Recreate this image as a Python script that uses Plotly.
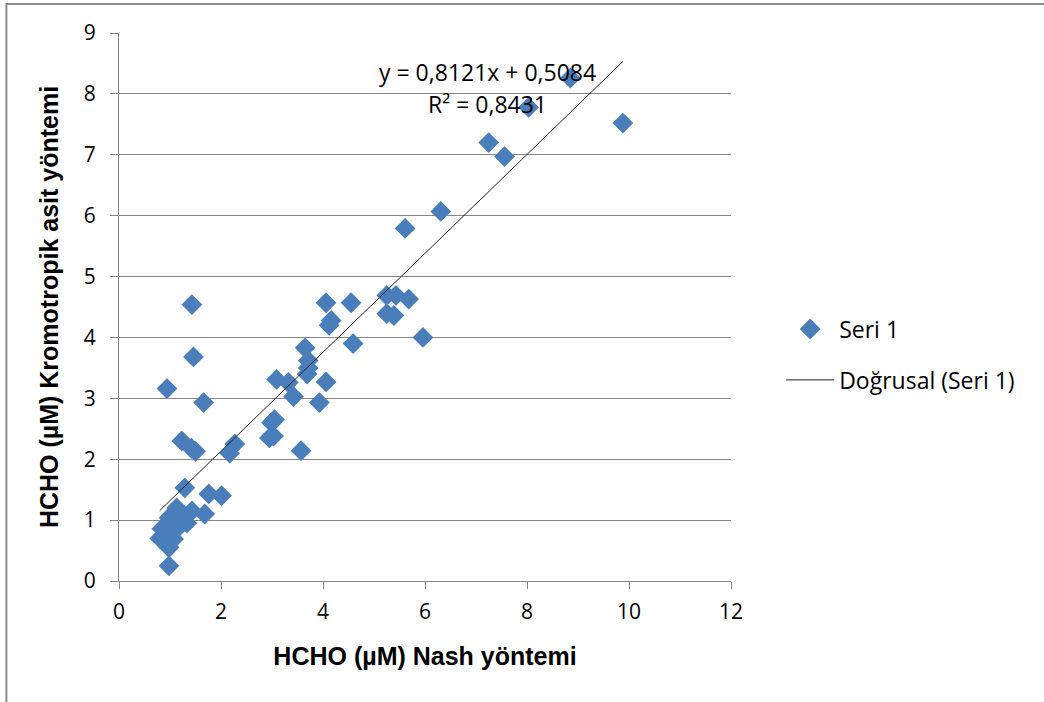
import numpy as np
import plotly.graph_objects as go

# HCHO measurements: Nash method (x) vs chromotropic acid method (y), in µM
nash = [
    0.98, 0.80, 0.98, 1.07, 0.84, 1.09, 0.92, 0.98, 1.18, 1.33, 1.13, 1.22,
    1.43, 1.68, 1.29, 1.76, 2.01,
    0.94, 1.43, 1.46, 1.66, 1.23, 1.42, 1.50, 2.27, 2.17,
    2.95, 3.03, 2.99, 3.05, 3.57, 3.09, 3.32, 3.42, 3.93, 4.06,
    3.65, 3.71, 3.71, 3.69, 4.59, 4.06, 4.55, 4.16, 4.12,
    5.25, 5.43, 5.68, 5.25, 5.39, 5.96, 5.61, 6.31,
    7.25, 7.56, 8.03, 8.85, 9.88,
]
kromotropik = [
    0.25, 0.70, 0.55, 0.69, 0.86, 0.82, 0.78, 1.04, 0.98, 0.95, 1.20, 1.12,
    1.15, 1.10, 1.53, 1.43, 1.40,
    3.16, 4.54, 3.68, 2.93, 2.30, 2.18, 2.13, 2.25, 2.10,
    2.35, 2.38, 2.60, 2.65, 2.14, 3.31, 3.26, 3.03, 2.93, 3.27,
    3.83, 3.62, 3.50, 3.40, 3.90, 4.57, 4.57, 4.28, 4.20,
    4.69, 4.69, 4.63, 4.39, 4.36, 4.00, 5.79, 6.07,
    7.20, 6.97, 7.78, 8.26, 7.52,
]

# Linear trend line (as reported on the chart)
slope = 0.8121
intercept = 0.5084
r_squared = 0.8431

x_tick_vals = [0, 2, 4, 6, 8, 10, 12]
y_tick_vals = [0, 1, 2, 3, 4, 5, 6, 7, 8, 9]

trend_x = np.array([min(nash), max(nash)])
trend_y = slope * trend_x + intercept

blue = "#4A7EBB"
label_font = "Open Sans, Liberation Sans, sans-serif"
title_font = "Liberation Sans Narrow, Liberation Sans, Arial, sans-serif"

fig = go.Figure()
fig.add_trace(go.Scatter(
    x=nash, y=kromotropik, mode="markers", name="Seri 1",
    marker=dict(symbol="diamond", size=16, color=blue, line=dict(width=0)),
    legendgroup="a",
))
fig.add_trace(go.Scatter(
    x=trend_x, y=trend_y, mode="lines", name="Doğrusal (Seri 1)",
    line=dict(color="#222222", width=1),
    legendgroup="b",
))

fig.add_annotation(
    x=7.23, y=8.36, xref="x", yref="y", showarrow=False,
    text=f"y = {slope:.4f}x + {intercept:.4f}".replace(".", ","),
    font=dict(family=label_font, size=23, color="#000000"),
)
fig.add_annotation(
    x=7.23, y=7.84, xref="x", yref="y", showarrow=False,
    text=f"R² = {r_squared:.4f}".replace(".", ","),
    font=dict(family=label_font, size=23, color="#000000"),
)

# Outer chart frame (top and left edges visible)
fig.add_shape(
    type="rect", xref="paper", yref="paper",
    x0=-0.184, x1=1.6, y0=-0.5, y1=1.053,
    line=dict(color="#8C8C8C", width=2), fillcolor="rgba(0,0,0,0)",
    layer="below",
)

fig.update_layout(
    width=1044, height=702,
    margin=dict(l=119, r=313, t=33, b=121),
    paper_bgcolor="white", plot_bgcolor="white",
    font=dict(family=label_font, color="#000000"),
    showlegend=True,
    legend=dict(
        x=1.082, y=0.499, xanchor="left", yanchor="top",
        font=dict(family=label_font, size=23, color="#000000"),
        traceorder="grouped", tracegroupgap=18, itemwidth=48,
        bgcolor="rgba(0,0,0,0)",
    ),
    xaxis=dict(
        range=[0, 12], tickvals=x_tick_vals, showgrid=False, zeroline=False,
        showline=True, linecolor="#868686", linewidth=1,
        ticks="outside", ticklen=7, tickcolor="#868686",
        ticklabelstandoff=5,
        tickfont=dict(family=label_font, size=21, color="#000000"),
        title=dict(text="<b>HCHO (µM) Nash yöntemi</b>",
                   font=dict(family=title_font, size=25, color="#000000"),
                   standoff=23),
    ),
    yaxis=dict(
        range=[0, 9], tickvals=y_tick_vals, showgrid=True, gridcolor="#868686",
        gridwidth=1, zeroline=False,
        showline=True, linecolor="#868686", linewidth=1,
        ticks="outside", ticklen=8, tickcolor="#868686",
        ticklabelstandoff=10,
        tickfont=dict(family=label_font, size=21, color="#000000"),
        title=dict(text="<b>HCHO (µM) Kromotropik asit yöntemi</b>",
                   font=dict(family=title_font, size=25, color="#000000"),
                   standoff=18),
    ),
)

fig.write_html("out.html")
